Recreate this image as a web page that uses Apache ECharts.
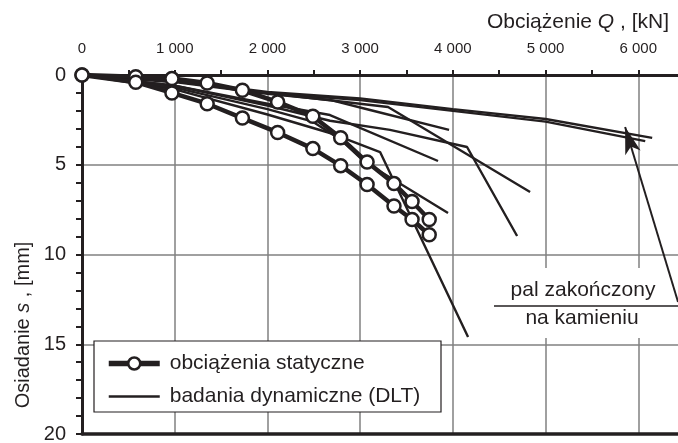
<!DOCTYPE html>
<html>
<head>
<meta charset="utf-8">
<script src="https://cdn.jsdelivr.net/npm/echarts@6/dist/echarts.min.js"></script>
<style>
html,body{margin:0;padding:0;background:#fff;}
#chart{width:678px;height:443px;}
</style>
</head>
<body>
<div id="chart"></div>
<script>
// ---- data ----
const xTickValues = [0, 1000, 2000, 3000, 4000, 5000, 6000];
const xTickLabels = ['0', '1 000', '2 000', '3 000', '4 000', '5 000', '6 000'];
const yTickLabels = ['0', '5', '10', '15', '20'];

// static load tests (Q [kN], s [mm])
const static1 = [[0,0],[580,0.1],[970,0.2],[1350,0.45],[1730,0.85],[2110,1.5],[2490,2.3],[2790,3.5],[3075,4.85],[3365,6.05],[3560,7.05],[3745,8.05]];
const static2 = [[0,0],[580,0.4],[970,1.0],[1350,1.6],[1730,2.4],[2110,3.2],[2490,4.1],[2790,5.05],[3075,6.1],[3365,7.3],[3560,8.05],[3745,8.9]];

// dynamic load tests (DLT)
const dlt1 = [[0,0],[1000,0.3],[2000,0.95],[3000,1.3],[4000,1.9],[5000,2.45],[6150,3.5]];
const dlt2 = [[0,0],[1000,0.35],[2000,1.0],[3000,1.4],[4000,2.0],[5000,2.6],[6075,3.68]];
const dlt3 = [[0,0],[1000,0.4],[2000,1.05],[2675,1.39],[3107,1.95],[3959,3.06]];
const dlt4 = [[0,0],[1000,0.35],[2000,1.0],[3301,1.78],[4833,6.52]];
const dlt5 = [[0,0],[1000,0.6],[2000,1.6],[2675,2.23],[3840,4.79]];
const dlt6 = [[0,0],[1000,0.6],[2000,1.7],[2675,2.55],[3322,3.06],[4153,4.01],[4693,8.97]];
const dlt7 = [[0,0],[1000,0.8],[2000,2.2],[2675,3.23],[3215,4.29],[4164,14.6]];
const dlt8 = [[0,0],[1000,0.7],[2000,1.9],[2490,2.6],[2790,3.6],[3050,4.85],[3948,7.69]];

const arrowFrom = [6429, 12.65];
const arrowTo = [5858, 2.9];

const nameStatic = 'obciążenia statyczne';
const nameDyn = 'badania dynamiczne (DLT)';

// ---- chart ----
const INK = '#231f20';
const FONT = '"Liberation Sans", Arial, Helvetica, sans-serif';
const chart = echarts.init(document.getElementById('chart'), null, {renderer: 'canvas'});

const labelMap = {};
xTickValues.forEach((v, i) => { labelMap[v] = xTickLabels[i]; });

function staticSeries(data) {
  return {
    name: nameStatic, type: 'line', data: data, z: 5,
    symbol: 'circle', symbolSize: 13, showAllSymbol: true,
    lineStyle: {color: INK, width: 4.5},
    itemStyle: {color: '#fff', borderColor: INK, borderWidth: 2.5},
    animation: false, silent: true
  };
}
function dynSeries(data, extra) {
  return Object.assign({
    name: nameDyn, type: 'line', data: data, z: 3,
    symbol: 'none', lineStyle: {color: INK, width: 2.4},
    itemStyle: {color: INK},
    animation: false, silent: true
  }, extra || {});
}

const dynSets = [dlt1, dlt2, dlt3, dlt4, dlt5, dlt6, dlt7, dlt8];
const series = dynSets.map((d, i) => dynSeries(d, i === 0 ? {
  markLine: {
    silent: true, animation: false,
    symbol: ['none', 'arrow'], symbolSize: [12, 27],
    lineStyle: {color: INK, width: 2, type: 'solid'},
    label: {show: false},
    data: [[{coord: arrowFrom}, {coord: arrowTo}]]
  }
} : null));
series.push(staticSeries(static1));
series.push(staticSeries(static2));

const option = {
  backgroundColor: '#fff',
  animation: false,
  textStyle: {fontFamily: FONT, color: INK},
  grid: {left: 82, top: 75, width: 649, height: 359, containLabel: false, outerBoundsMode: 'none'},
  xAxis: [{
    type: 'value', position: 'top', min: 0, max: 7000, interval: 1000,
    axisLine: {show: true, lineStyle: {color: INK, width: 3}},
    axisTick: {show: true, length: 5, lineStyle: {color: INK, width: 2}},
    minorTick: {show: true, splitNumber: 2, length: 5, lineStyle: {color: INK, width: 2}},
    axisLabel: {
      margin: 19, fontSize: 15, color: INK, fontFamily: FONT,
      formatter: v => (labelMap[v] !== undefined ? labelMap[v] : '')
    },
    splitLine: {show: true, lineStyle: {color: '#808080', width: 1.5}}
  }, {
    type: 'value', position: 'bottom', min: 0, max: 7000, interval: 1000,
    axisLine: {show: true, onZero: false, lineStyle: {color: INK, width: 3.5}},
    axisTick: {show: false}, axisLabel: {show: false}, splitLine: {show: false}
  }],
  yAxis: {
    type: 'value', inverse: true, min: 0, max: 20, interval: 5,
    axisLine: {show: true, onZero: false, lineStyle: {color: INK, width: 3}},
    axisTick: {show: true, length: 6, lineStyle: {color: INK, width: 2}},
    minorTick: {show: true, splitNumber: 5, length: 6, lineStyle: {color: INK, width: 2}},
    axisLabel: {
      margin: 16, fontSize: 20, color: INK, fontFamily: FONT,
      formatter: (v) => yTickLabels[v / 5]
    },
    splitLine: {show: true, lineStyle: {color: '#808080', width: 1.5}}
  },
  legend: {
    show: true, orient: 'vertical', left: 94, top: 341,
    padding: [12, 10, 10, 12],
    itemWidth: 51, itemHeight: 15, itemGap: 12,
    selectedMode: false,
    textStyle: {fontSize: 21, color: INK, fontFamily: FONT, padding: [0, 0, 0, 5]},
    data: [
      {name: nameStatic,
       itemStyle: {color: '#fff', borderColor: INK, borderWidth: 2.5},
       lineStyle: {color: INK, width: 5.5}},
      {name: nameDyn,
       itemStyle: {opacity: 0},
       lineStyle: {color: INK, width: 2.4}}
    ],
    z: 10
  },
  graphic: [
    // legend box
    {type: 'rect', z: 9, shape: {x: 94, y: 341, width: 347, height: 71},
     style: {fill: '#fff', stroke: INK, lineWidth: 1.2}},
    // annotation background and text
    {type: 'rect', z: 1, shape: {x: 492, y: 268, width: 184, height: 70},
     style: {fill: '#fff'}},
    {type: 'text', z: 2, x: 583, y: 290,
     style: {text: 'pal zakończony', fontSize: 21, fontFamily: FONT, fill: INK, textAlign: 'center', textVerticalAlign: 'middle'}},
    {type: 'line', z: 2, shape: {x1: 494, y1: 306, x2: 680, y2: 306},
     style: {stroke: INK, lineWidth: 1.7}},
    {type: 'text', z: 2, x: 582, y: 318,
     style: {text: 'na kamieniu', fontSize: 21, fontFamily: FONT, fill: INK, textAlign: 'center', textVerticalAlign: 'middle'}},
    // axis titles
    {type: 'text', z: 2, x: 669, y: 22,
     style: {text: '{n|Obciążenie }{i|Q}{n| , [kN]}', textAlign: 'right', textVerticalAlign: 'middle',
       rich: {n: {fontSize: 21, fontFamily: FONT, fill: INK, color: INK},
              i: {fontSize: 21, fontFamily: FONT, fontStyle: 'italic', fill: INK, color: INK}}}},
    {type: 'text', z: 2, x: 23, y: 325, rotation: Math.PI / 2,
     style: {text: '{n|Osiadanie }{i|s}{n| , [mm]}', textAlign: 'center', textVerticalAlign: 'middle',
       rich: {n: {fontSize: 20, fontFamily: FONT, fill: INK, color: INK},
              i: {fontSize: 20, fontFamily: FONT, fontStyle: 'italic', fill: INK, color: INK}}}}
  ],
  series: series
};
chart.setOption(option);
</script>
</body>
</html>
